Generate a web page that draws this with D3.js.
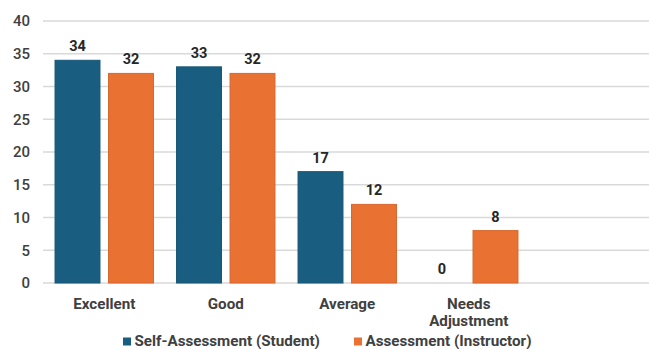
<!DOCTYPE html>
<html>
<head>
<meta charset="utf-8">
<script src="https://cdn.jsdelivr.net/npm/d3@7"></script>
<style>
  body { margin: 0; background: #fff; }
  text { font-family: Roboto, "Noto Sans", sans-serif; }
</style>
</head>
<body>
<div id="wrapper"></div>
<script>
const categories = ["Excellent", "Good", "Average", "Needs Adjustment"]
const seriesNames = ["Self-Assessment (Student)", "Assessment (Instructor)"]
const studentValues = [34, 33, 17, 0]
const instructorValues = [32, 32, 12, 8]
const yTicks = [0, 5, 10, 15, 20, 25, 30, 35, 40]
const colors = ["#195e81", "#e97132"]

function drawBarChart() {
    const width = 649
    const height = 349

    const svg = d3.select("#wrapper")
        .append("svg")
        .attr("width", width)
        .attr("height", height)

    // scales
    const y = d3.scaleLinear().domain([0, 40]).range([283, 21])

    const step = 121.5
    const x0 = d3.scaleBand()
        .domain(categories)
        .range([43.5, 43.5 + categories.length * step])
        .paddingInner(0.19)
        .paddingOuter(0.095)

    const x1 = d3.scaleBand()
        .domain(seriesNames)
        .range([0, x0.bandwidth()])
        .paddingInner(0.16)

    // gridlines
    svg.append("g")
        .selectAll("line")
        .data(yTicks)
        .enter().append("line")
        .attr("x1", 43)
        .attr("x2", width)
        .attr("y1", d => y(d))
        .attr("y2", d => y(d))
        .attr("stroke", "#d9d9d9")
        .attr("stroke-width", 1.5)

    // y labels
    svg.append("g")
        .selectAll("text")
        .data(yTicks)
        .enter().append("text")
        .attr("x", 30)
        .attr("y", d => y(d))
        .attr("dy", "0.36em")
        .attr("text-anchor", "end")
        .attr("font-size", 15)
        .attr("font-weight", 500)
        .attr("fill", "#404040")
        .text(d => d)

    const rows = categories.map((c, i) => ({
        category: c,
        values: [
            { series: seriesNames[0], value: studentValues[i], color: colors[0] },
            { series: seriesNames[1], value: instructorValues[i], color: colors[1] },
        ]
    }))

    const groups = svg.append("g")
        .selectAll("g")
        .data(rows)
        .enter().append("g")
        .attr("transform", d => `translate(${x0(d.category)},0)`)

    groups.selectAll("rect")
        .data(d => d.values.filter(v => v.value > 0))
        .enter().append("rect")
        .attr("x", d => x1(d.series))
        .attr("y", d => y(d.value))
        .attr("width", x1.bandwidth())
        .attr("height", d => y(0) - y(d.value))
        .attr("fill", d => d.color)
        .attr("stroke", d => d3.color(d.color).darker(0.25))
        .attr("stroke-width", 1)

    // value labels
    groups.selectAll("text")
        .data(d => d.values)
        .enter().append("text")
        .attr("x", d => x1(d.series) + x1.bandwidth() / 2)
        .attr("y", d => y(d.value) - 9)
        .attr("text-anchor", "middle")
        .attr("font-size", 14.5)
        .attr("font-weight", 700)
        .attr("fill", "#262626")
        .text(d => d.value)

    // category labels
    const catLabels = svg.append("g")
        .selectAll("text")
        .data(categories)
        .enter().append("text")
        .attr("x", d => x0(d) + x0.bandwidth() / 2)
        .attr("y", 309)
        .attr("text-anchor", "middle")
        .attr("font-size", 15.2)
        .attr("font-weight", 700)
        .attr("fill", "#404040")

    catLabels.each(function(d) {
        const words = d.split(" ")
        const t = d3.select(this)
        words.forEach((w, i) => {
            t.append("tspan")
                .attr("x", x0(d) + x0.bandwidth() / 2)
                .attr("dy", i === 0 ? 0 : 17)
                .text(w)
        })
    })

    // legend
    const legendX = [123, 354]
    const legend = svg.append("g")
        .selectAll("g")
        .data(seriesNames)
        .enter().append("g")
        .attr("transform", (d, i) => `translate(${legendX[i]},0)`)

    legend.append("rect")
        .attr("x", 0)
        .attr("y", 337.5)
        .attr("width", 8)
        .attr("height", 8)
        .attr("fill", (d, i) => colors[i])

    legend.append("text")
        .attr("x", 11.5)
        .attr("y", 346)
        .attr("font-size", 15.2)
        .attr("font-weight", 700)
        .attr("fill", "#404040")
        .text(d => d)
}
drawBarChart()
</script>
</body>
</html>
